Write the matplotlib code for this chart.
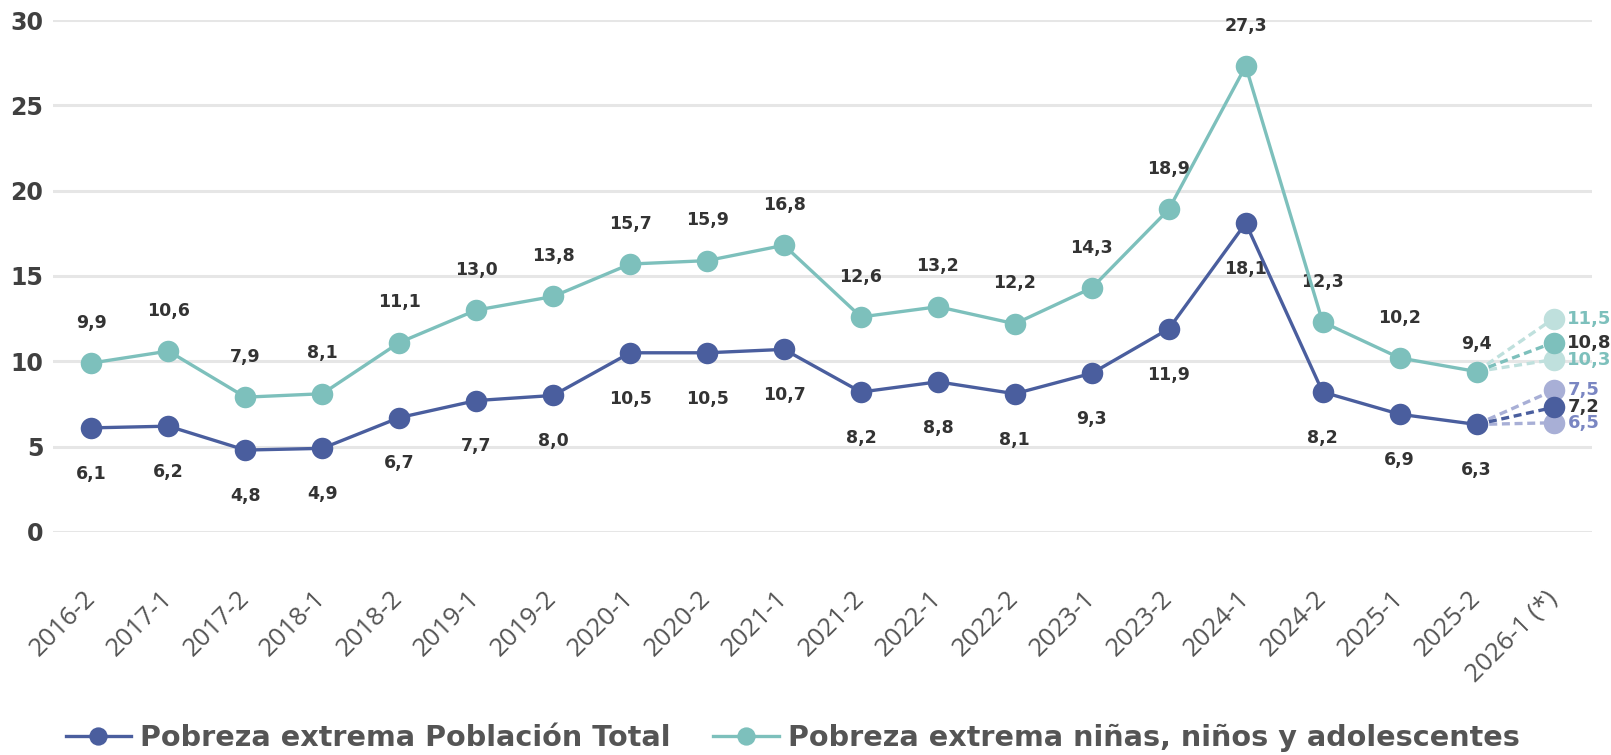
# Pobreza extrema: población total vs niñas, niños y adolescentes
import matplotlib.pyplot as plt
from matplotlib.transforms import ScaledTranslation

periodos = ['2016-2', '2017-1', '2017-2', '2018-1', '2018-2', '2019-1', '2019-2',
            '2020-1', '2020-2', '2021-1', '2021-2', '2022-1', '2022-2', '2023-1',
            '2023-2', '2024-1', '2024-2', '2025-1', '2025-2', '2026-1 (*)']
total = [6.1, 6.2, 4.8, 4.9, 6.7, 7.7, 8.0, 10.5, 10.5, 10.7, 8.2, 8.8, 8.1, 9.3,
         11.9, 18.1, 8.2, 6.9, 6.3]
nna = [9.9, 10.6, 7.9, 8.1, 11.1, 13.0, 13.8, 15.7, 15.9, 16.8, 12.6, 13.2, 12.2,
       14.3, 18.9, 27.3, 12.3, 10.2, 9.4]
# proyección 2026-1: (central, alto, bajo)
proy_total = [7.2, 7.5, 6.5]
proy_nna = [10.8, 11.5, 10.3]

# separación visual de los puntos proyectados (unidades del eje)
sep_total = [0.1, 0.8, -0.1]
sep_nna = [0.3, 1.0, -0.2]

azul = '#4a5e9e'
azul_claro = '#a8afd6'
azul_txt = '#7a86c2'
verde = '#7dc0bc'
verde_claro = '#bfe0dd'
gris_txt = '#333333'

fig = plt.figure(figsize=(16.11, 7.55), dpi=100)
ax = fig.add_axes([0.0329, 0.2954, 0.9553, 0.6781])

x = list(range(len(total)))
ax.plot(x, nna, color=verde, lw=2.4, marker='o', ms=15.5, mec='none', zorder=4,
        label='Pobreza extrema niñas, niños y adolescentes')
ax.plot(x, total, color=azul, lw=2.4, marker='o', ms=15.5, mec='none', zorder=4,
        label='Pobreza extrema Población Total')

# proyecciones
xp = len(total)
for serie, proy, sep, c, cl, ct in [(nna, proy_nna, sep_nna, verde, verde_claro, verde),
                                    (total, proy_total, sep_total, azul, azul_claro, azul_txt)]:
    for i in [1, 2, 0]:
        v = proy[i]
        yv = v + sep[i]
        col = c if i == 0 else cl
        z = 3 if i == 0 else 2
        ax.plot([xp - 1, xp], [serie[-1], yv], color=col, lw=2.4,
                dashes=(2.4, 1.4), zorder=z)
        ax.plot([xp], [yv], 'o', color=col, ms=15.5, mec='none', zorder=z,
                clip_on=False)
        ax.annotate(f'{v:.1f}'.replace('.', ','), (xp, yv), xytext=(10, 0),
                    textcoords='offset points', ha='left', va='center',
                    fontsize=13, fontweight='bold',
                    color=gris_txt if i == 0 else ct)

# etiquetas de datos
off_nna = [29] * len(nna)
off_nna[-1] = 20
for i, v in enumerate(nna):
    ax.annotate(f'{v:.1f}'.replace('.', ','), (i, v), xytext=(0, off_nna[i]),
                textcoords='offset points', ha='center', va='center',
                fontsize=12.5, fontweight='bold', color=gris_txt)
for i, v in enumerate(total):
    ax.annotate(f'{v:.1f}'.replace('.', ','), (i, v), xytext=(0, -33),
                textcoords='offset points', ha='center', va='center',
                fontsize=12.5, fontweight='bold', color=gris_txt)

ax.set_xlim(-0.5, 19.5)
ax.set_ylim(0, 30)
ax.set_yticks([0, 5, 10, 15, 20, 25, 30])
ax.set_xticks(range(len(periodos)))
ax.set_xticklabels(periodos, rotation=45, ha='right', va='center',
                   rotation_mode='anchor', fontsize=18.5, color='#555555',
                   family='Open Sans')
desplaza = ScaledTranslation(-0.06, -0.03, fig.dpi_scale_trans)
for t in ax.get_xticklabels():
    t.set_transform(t.get_transform() + desplaza)
ax.grid(axis='y', color='#e6e6e6', lw=2.2)
ax.set_axisbelow(True)
for s in ax.spines.values():
    s.set_visible(False)
ax.tick_params(axis='both', length=0)
ax.tick_params(axis='x', pad=45)
ax.tick_params(axis='y', pad=7, labelsize=17, labelcolor='#404040')
for t in ax.get_yticklabels():
    t.set_fontweight('bold')

h, l = ax.get_legend_handles_labels()
fig.legend(h[::-1], l[::-1], loc='center', bbox_to_anchor=(0.492, 0.022),
           ncol=2, frameon=False, handlelength=2.3, columnspacing=1.5,
           handletextpad=0.3, markerscale=0.85,
           prop={'size': 20.6, 'weight': 'bold'}, labelcolor='#555555')

fig.savefig('out.png', dpi=100)
